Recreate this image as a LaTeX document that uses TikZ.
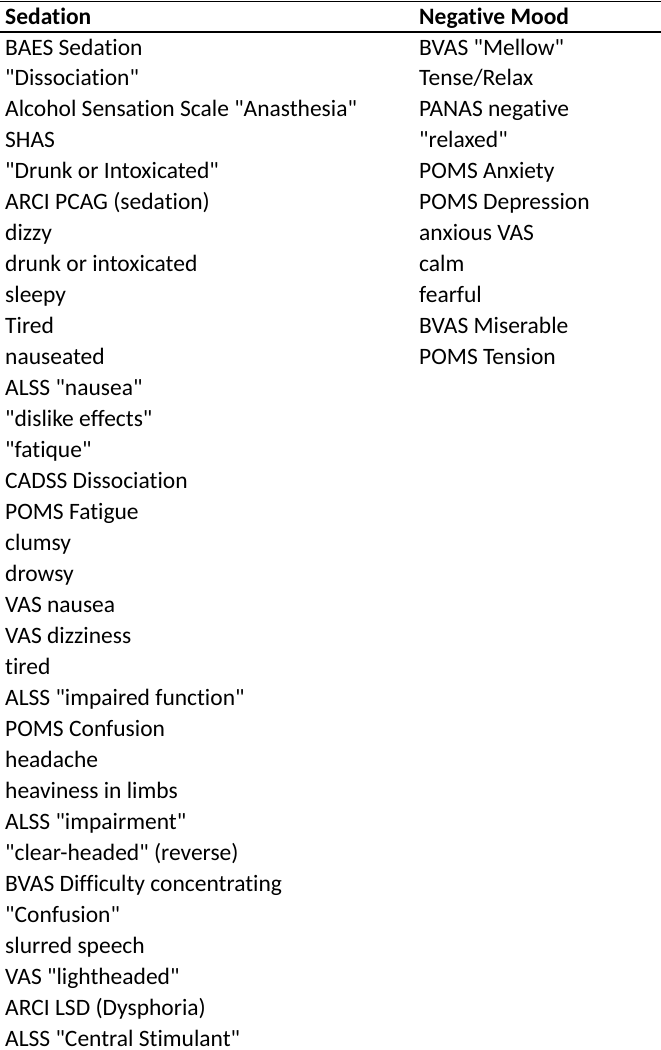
\documentclass[tikz,border=0pt]{standalone}
\usepackage{fontspec}
\setmainfont{Carlito}[Ligatures={TeXOff,NoCommon}]
\begin{document}
\begin{tikzpicture}[x=1pt,y=-1pt,
  cell/.style={anchor=base west,inner sep=0pt,font=\fontsize{23.5}{26}\selectfont},
  head/.style={cell,font=\fontsize{23.5}{26}\selectfont\bfseries}]
\useasboundingbox (0,0) rectangle (661,1050);
\draw[line width=1pt] (0,1) -- (661,1);
\draw[line width=2pt] (0,32) -- (661,32);
\node[head] (h1) at (5,24) {Sedation};
\node[head] (h2) at (419,24) {Negative Mood};
\foreach \t [count=\i from 0] in {BAES Sedation,"Dissociation",Alcohol Sensation Scale "Anasthesia",SHAS,"Drunk or Intoxicated",ARCI PCAG (sedation),dizzy,drunk or intoxicated,sleepy,Tired,nauseated,ALSS "nausea","dislike effects","fatique",CADSS Dissociation,POMS Fatigue,clumsy,drowsy,VAS nausea,VAS dizziness,tired,ALSS "impaired function",POMS Confusion,headache,heaviness in limbs,ALSS "impairment","clear-headed" (reverse),BVAS Difficulty concentrating,"Confusion",slurred speech,VAS "lightheaded",ARCI LSD (Dysphoria),ALSS "Central Stimulant"}
  \node[cell] (a\i) at (5,{55+30.97*\i}) {\t};
\foreach \t [count=\i from 0] in {BVAS "Mellow",Tense/Relax,PANAS negative,"relaxed",POMS Anxiety,POMS Depression,anxious VAS,calm,fearful,BVAS Miserable,POMS Tension}
  \node[cell] (b\i) at (419,{55+30.97*\i}) {\t};
\end{tikzpicture}
\end{document}
